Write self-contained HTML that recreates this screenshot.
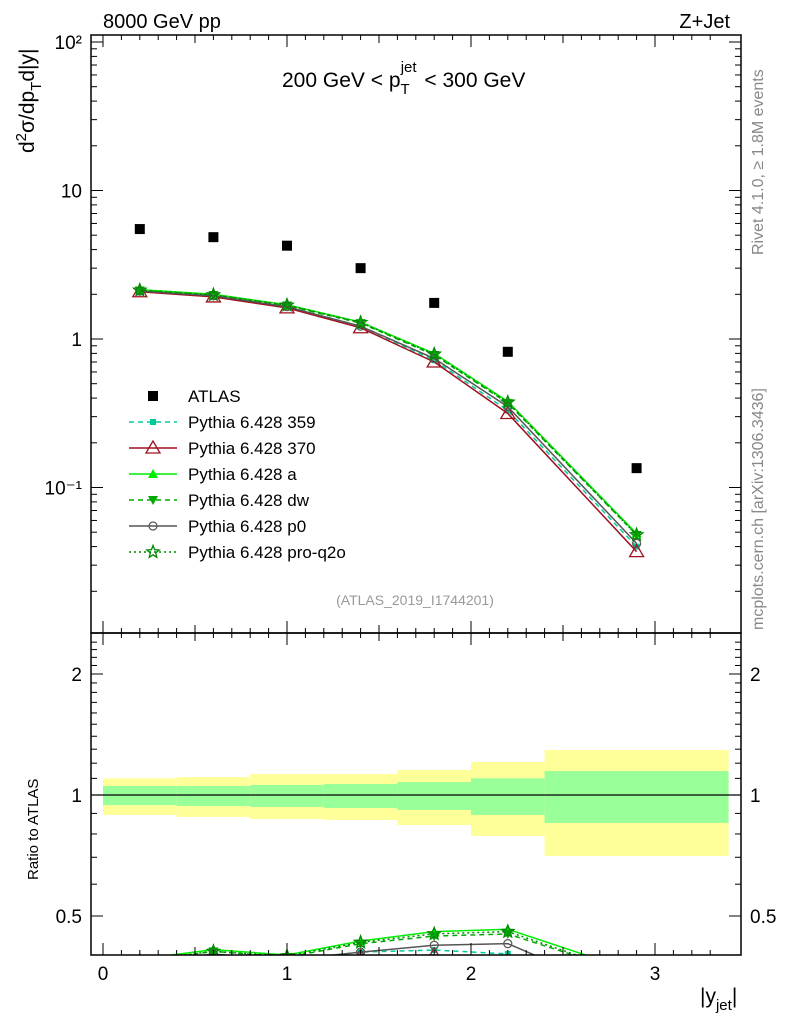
<!DOCTYPE html>
<html><head><meta charset="utf-8"><style>
body{margin:0;background:#fff;}
svg text{font-family:"Liberation Sans",sans-serif;}
</style></head><body>
<svg id="c" width="786" height="1024" xmlns="http://www.w3.org/2000/svg">
<defs>
<clipPath id="cm"><rect x="91" y="35" width="650" height="598"/></clipPath>
<clipPath id="cr"><rect x="91" y="633" width="650" height="322"/></clipPath>
</defs>
<g id="bands" clip-path="url(#cr)"></g>
<g id="main" clip-path="url(#cm)"></g>
<g id="ratio" clip-path="url(#cr)"></g>
<g id="axes"></g>
<text x="103" y="28" font-size="20">8000 GeV pp</text>
<text x="730" y="28" font-size="20" text-anchor="end">Z+Jet</text>
<text x="282" y="87" font-size="21">200 GeV &lt; p<tspan font-size="15" dy="7">T</tspan><tspan font-size="15" dx="-9" dy="-22">jet</tspan><tspan dy="15" dx="2"> &lt; 300 GeV</tspan></text>
<text x="415" y="605" font-size="14" fill="#999" text-anchor="middle">(ATLAS_2019_I1744201)</text>
<text transform="translate(763,255) rotate(-90)" font-size="16" fill="#888">Rivet 4.1.0, ≥ 1.8M events</text>
<text transform="translate(763,630) rotate(-90)" font-size="16" fill="#888">mcplots.cern.ch [arXiv:1306.3436]</text>
<text transform="translate(34,153) rotate(-90)" font-size="21">d<tspan font-size="15" dy="-8">2</tspan><tspan dy="8">σ/dp</tspan><tspan font-size="15" dy="7">T</tspan><tspan dy="-7">d|y|</tspan></text>
<text transform="translate(38,880) rotate(-90)" font-size="15">Ratio to ATLAS</text>
<text x="700" y="1003" font-size="21">|y<tspan font-size="15" dy="7">jet</tspan><tspan dy="-7">|</tspan></text>
<g id="legend"></g>
</svg>
<script>
const xs=[0.2,0.6,1.0,1.4,1.8,2.2,2.9];
const atlas=[5.5,4.85,4.25,3.0,1.75,0.82,0.135];
const binLo=[0,0.4,0.8,1.2,1.6,2.0,2.4];
const binHi=[0.4,0.8,1.2,1.6,2.0,2.4,3.4];
const yelUp=[1.10,1.108,1.128,1.128,1.154,1.208,1.294];
const yelDn=[0.892,0.882,0.872,0.867,0.842,0.791,0.705];
const grnUp=[1.053,1.053,1.059,1.065,1.077,1.10,1.147];
const grnDn=[0.944,0.939,0.934,0.928,0.918,0.892,0.852];
const s359=[2.1,1.95,1.65,1.22,0.72,0.33,0.040];
const s370=[2.08,1.92,1.62,1.19,0.70,0.315,0.037];
const sA=[2.15,2.0,1.7,1.3,0.8,0.38,0.049];
const sDw=[2.12,1.98,1.68,1.28,0.78,0.37,0.048];
const sP0=[2.1,1.95,1.65,1.22,0.74,0.35,0.042];
const sQ2o=[2.13,1.98,1.69,1.29,0.79,0.375,0.048];
const xTicks=[0,1,2,3];
const yTicks=[100,10,1,0.1];
const yTickLabels=["10²","10","1","10⁻¹"];
const rTicks=[0.5,1,2];
const rTickLabels=["0.5","1","2"];

const NS="http://www.w3.org/2000/svg";
const X=v=>103+184*v;
const Y=v=>339-148.5*Math.log10(v);
const R=v=>795-402*Math.log10(v);
function mk(tag,attrs,parent){const e=document.createElementNS(NS,tag);for(const k in attrs)e.setAttribute(k,attrs[k]);parent.appendChild(e);return e;}
const G=id=>document.getElementById(id);

for(let i=0;i<binLo.length;i++){
 let e=mk('rect',{x:X(binLo[i]),y:R(yelUp[i]),width:X(binHi[i])-X(binLo[i]),height:R(yelDn[i])-R(yelUp[i]),fill:'#ffff99'},G('bands'));
 
 
 e=mk('rect',{x:X(binLo[i]),y:R(grnUp[i]),width:X(binHi[i])-X(binLo[i]),height:R(grnDn[i])-R(grnUp[i]),fill:'#99ff99'},G('bands'));
 
 
}
mk('line',{x1:91,x2:741,y1:R(1),y2:R(1),stroke:'#000','stroke-width':1.3},G('bands'));

function marker(g,type,cx,cy,col){
 let e;
 if(type==='sq')e=mk('rect',{x:cx-3,y:cy-3,width:6,height:6,fill:col},g);
 else if(type==='tri')e=mk('polygon',{points:`${cx},${cy-7} ${cx-7},${cy+5} ${cx+7},${cy+5}`,fill:'none',stroke:col,'stroke-width':1.3},g);
 else if(type==='ftri')e=mk('polygon',{points:`${cx},${cy-5} ${cx-5},${cy+4} ${cx+5},${cy+4}`,fill:col},g);
 else if(type==='dtri')e=mk('polygon',{points:`${cx},${cy+5} ${cx-5},${cy-4} ${cx+5},${cy-4}`,fill:col},g);
 else if(type==='circ')e=mk('circle',{cx:cx,cy:cy,r:4,fill:'none',stroke:col,'stroke-width':1.2},g);
 else if(type==='star'){let p=[];for(let k=0;k<10;k++){const r=k%2?2.8:6.5,a=-Math.PI/2+k*Math.PI/5;p.push((cx+r*Math.cos(a)).toFixed(1)+','+(cy+r*Math.sin(a)).toFixed(1));}e=mk('polygon',{points:p.join(' '),fill:'none',stroke:col,'stroke-width':1.3},g);}
 return e;
}
const series=[
 {d:s359,col:'#00cc99',dash:'5,4',m:'sq',n:'Pythia 6.428 359',id:'359'},
 {d:s370,col:'#a01020',dash:'',m:'tri',n:'Pythia 6.428 370',id:'370'},
 {d:sA,col:'#00ee00',dash:'',m:'ftri',n:'Pythia 6.428 a',id:'a'},
 {d:sDw,col:'#00aa00',dash:'5,4',m:'dtri',n:'Pythia 6.428 dw',id:'dw'},
 {d:sP0,col:'#555555',dash:'',m:'circ',n:'Pythia 6.428 p0',id:'p0'},
 {d:sQ2o,col:'#008800',dash:'2,3',m:'star',n:'Pythia 6.428 pro-q2o',id:'pro-q2o'}
];
series.forEach(s=>{
 const gm=mk('g',{},G('main'));
 
 
 const pl=mk('polyline',{points:xs.map((x,i)=>X(x)+','+Y(s.d[i])).join(' '),fill:'none',stroke:s.col,'stroke-width':1.5,'stroke-dasharray':s.dash},gm);
 
 
 xs.forEach((x,i)=>{const e=marker(gm,s.m,X(x),Y(s.d[i]),s.col);
  
  });
 const gr=mk('g',{},G('ratio'));
 
 
 const rl=mk('polyline',{points:xs.map((x,i)=>X(x)+','+R(s.d[i]/atlas[i])).join(' '),fill:'none',stroke:s.col,'stroke-width':1.5,'stroke-dasharray':s.dash},gr);
 
 
 xs.forEach((x,i)=>{const e=marker(gr,s.m,X(x),R(s.d[i]/atlas[i]),s.col);
  
  });
});
xs.forEach((x,i)=>{const e=mk('rect',{x:X(x)-5,y:Y(atlas[i])-5,width:10,height:10,fill:'#000'},G('main'));
 
 });

const ax=G('axes');
[[35,633],[633,955]].forEach(([t,b])=>{mk('rect',{x:91,y:t,width:650,height:b-t,fill:'none',stroke:'#000','stroke-width':1.5},ax);});
for(let v=0;v<=3.4;v+=0.1){const big=Math.abs(v-Math.round(v*2)/2)<1e-6;const L=Math.abs(v-Math.round(v))<1e-6?12:(big?8:5);
 mk('line',{x1:X(v),x2:X(v),y1:955,y2:955-L,stroke:'#000'},ax);mk('line',{x1:X(v),x2:X(v),y1:633,y2:633+L,stroke:'#000'},ax);
 mk('line',{x1:X(v),x2:X(v),y1:633,y2:633-L,stroke:'#000'},ax);mk('line',{x1:X(v),x2:X(v),y1:35,y2:35+L,stroke:'#000'},ax);}
xTicks.forEach(v=>{const t=mk('text',{x:X(v),y:980,'font-size':19,'text-anchor':'middle'},ax);t.textContent=v;
 
 });
for(let d=-2;d<=2;d++)for(let m=1;m<10;m++){const v=m*Math.pow(10,d);const y=Y(v);if(y<35||y>633)continue;const L=m===1?12:6;
 mk('line',{x1:91,x2:91+L,y1:y,y2:y,stroke:'#000'},ax);mk('line',{x1:741,x2:741-L,y1:y,y2:y,stroke:'#000'},ax);}
yTicks.forEach((v,i)=>{const t=mk('text',{x:82,y:Y(v)+7,'font-size':19,'text-anchor':'end'},ax);t.textContent=yTickLabels[i];
 
 });
for(let v=0.4;v<=2.5;v+=0.1){const y=R(v);if(y<633||y>955)continue;const big=rTicks.some(r=>Math.abs(r-v)<1e-6);const L=big?12:6;
 mk('line',{x1:91,x2:91+L,y1:y,y2:y,stroke:'#000'},ax);mk('line',{x1:741,x2:741-L,y1:y,y2:y,stroke:'#000'},ax);}
rTicks.forEach((v,i)=>{[[82,'end'],[750,'start']].forEach(([x,a])=>{const t=mk('text',{x:x,y:R(v)+7,'font-size':19,'text-anchor':a},ax);t.textContent=rTickLabels[i];
 
 });});

const lg=G('legend');


let ly=396;
let e=mk('rect',{x:148,y:ly-5,width:10,height:10,fill:'#000'},lg);


let t=mk('text',{x:188,y:ly+6,'font-size':17},lg);t.textContent='ATLAS';


series.forEach((s,i)=>{const y=ly+26*(i+1);
 mk('line',{x1:129,x2:177,y1:y,y2:y,stroke:s.col,'stroke-width':1.5,'stroke-dasharray':s.dash},lg);
 marker(lg,s.m,153,y,s.col);
 const tt=mk('text',{x:188,y:y+6,'font-size':17},lg);tt.textContent=s.n;
 
 });
</script>
</body></html>
